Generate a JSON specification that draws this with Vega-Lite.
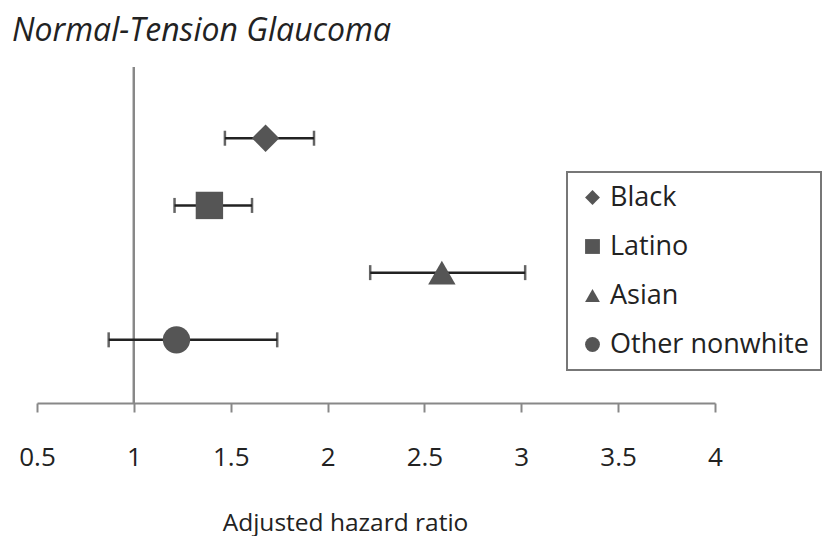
{
  "$schema": "https://vega.github.io/schema/vega-lite/v6.json",
  "autosize": "none",
  "width": 678,
  "height": 336,
  "padding": {"left": 37, "top": 67, "right": 114, "bottom": 133},
  "background": "white",
  "title": {
    "text": "Normal-Tension Glaucoma",
    "anchor": "start",
    "frame": "group",
    "dx": -25,
    "offset": 18,
    "font": "Open Sans",
    "fontStyle": "italic",
    "fontWeight": "normal",
    "fontSize": 32,
    "color": "#222"
  },
  "data": {
    "values": [
      {"group": "Black", "hr": 1.68, "lo": 1.47, "hi": 1.93},
      {"group": "Latino", "hr": 1.39, "lo": 1.21, "hi": 1.61},
      {"group": "Asian", "hr": 2.59, "lo": 2.22, "hi": 3.02},
      {"group": "Other nonwhite", "hr": 1.22, "lo": 0.87, "hi": 1.74}
    ]
  },
  "config": {
    "view": {"stroke": null},
    "font": "Open Sans",
    "legend": {
      "labelFont": "Open Sans",
      "labelFontSize": 27,
      "labelLimit": 400,
      "labelColor": "#222",
      "symbolSize": 220,
      "symbolFillColor": "#555",
      "symbolStrokeWidth": 0,
      "labelOffset": 4,
      "rowPadding": 21,
      "padding": 12,
      "strokeColor": "#777",
      "strokeWidth": 2,
      "fillColor": "white",
      "cornerRadius": 0
    }
  },
  "layer": [
    {
      "mark": {"type": "rule", "color": "#888", "strokeWidth": 2},
      "encoding": {"x": {"datum": 1}}
    },
    {
      "mark": {"type": "rule", "color": "#222", "strokeWidth": 2.5},
      "encoding": {
        "x": {"field": "lo", "type": "quantitative"},
        "x2": {"field": "hi"},
        "y": {"field": "group", "type": "nominal"}
      }
    },
    {
      "mark": {"type": "tick", "color": "#222", "size": 15, "thickness": 2.5, "orient": "vertical"},
      "encoding": {
        "x": {"field": "lo", "type": "quantitative"},
        "y": {"field": "group", "type": "nominal"}
      }
    },
    {
      "mark": {"type": "tick", "color": "#222", "size": 15, "thickness": 2.5, "orient": "vertical"},
      "encoding": {
        "x": {"field": "hi", "type": "quantitative"},
        "y": {"field": "group", "type": "nominal"}
      }
    },
    {
      "mark": {"type": "point", "filled": true, "color": "#555", "opacity": 1, "size": 750},
      "encoding": {
        "x": {"field": "hr", "type": "quantitative"},
        "y": {"field": "group", "type": "nominal"},
        "shape": {
          "field": "group",
          "type": "nominal",
          "sort": ["Black", "Latino", "Asian", "Other nonwhite"],
          "scale": {"domain": ["Black", "Latino", "Asian", "Other nonwhite"], "range": ["diamond", "square", "triangle-up", "circle"]},
          "legend": {"title": null, "orient": "none", "legendX": 530, "legendY": 105}
        }
      }
    }
  ],
  "resolve": {"scale": {"x": "shared", "y": "shared"}},
  "encoding": {
    "x": {
      "type": "quantitative",
      "scale": {"domain": [0.5, 4], "nice": false, "zero": false},
      "axis": {
        "title": "Adjusted hazard ratio",
        "values": [0.5, 1, 1.5, 2, 2.5, 3, 3.5, 4],
        "format": "~g",
        "grid": false,
        "domainColor": "#888",
        "domainWidth": 2,
        "tickColor": "#888",
        "tickWidth": 2,
        "tickSize": 9,
        "labelFont": "Open Sans",
        "labelFontSize": 26,
        "labelColor": "#222",
        "labelPadding": 32,
        "labelFlush": false,
        "titleFont": "Open Sans",
        "titleFontSize": 24.5,
        "titleFontWeight": "normal",
        "titleColor": "#222",
        "titlePadding": 41,
        "titleX": 308,
        "titleAlign": "center"
      }
    },
    "y": {
      "type": "nominal",
      "sort": ["Black", "Latino", "Asian", "Other nonwhite"],
      "scale": {"type": "point", "padding": 1.05, "align": 0.53},
      "axis": null
    }
  }
}
